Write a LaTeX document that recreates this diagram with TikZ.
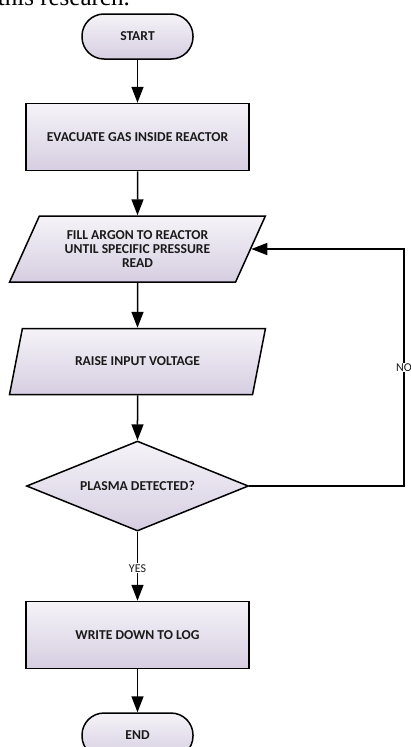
\documentclass[tikz,border=0pt]{standalone}
\usepackage{fontspec}
\setmainfont{Carlito}
\newfontfamily\bodyserif{Liberation Serif}
\usetikzlibrary{arrows.meta,positioning,shapes.geometric}
\definecolor{flowtop}{HTML}{F5F3F8}
\definecolor{flowbot}{HTML}{D6CEE1}
\definecolor{flowink}{HTML}{1A1A1A}

\begin{document}
\begin{tikzpicture}[x=1pt, y=-1pt, font=\fontsize{13.6}{14}\selectfont\bfseries,
    base/.style={draw=black, line width=1.5pt, top color=flowtop,
        bottom color=flowbot, text=flowink, align=center, inner sep=2pt},
    term/.style={base, rounded corners=22pt, minimum width=111pt, minimum height=45pt},
    proc/.style={base, minimum width=223pt, minimum height=67pt},
    io/.style={base, trapezium, trapezium left angle=61, trapezium right angle=119,
        trapezium stretches=true, minimum width=256pt, minimum height=66pt},
    decide/.style={base, diamond, aspect=2.47, minimum width=222pt, minimum height=90pt},
    arr/.style={line width=1.5pt, -{Triangle[length=16pt,width=12pt]}},
    lbl/.style={fill=white, inner sep=1pt, text=flowink,
        font=\mdseries\fontsize{12}{13}\selectfont}]
    \useasboundingbox (0,0) rectangle (410,747);
    \node[font=\bodyserif\mdseries\fontsize{25}{30}\selectfont, anchor=base east,
        inner sep=0pt] (intro) at (130,5) {this research.};
    \node[term] (start) at (137.5,36.5) {START};
    \node[proc, below=43pt of start] (evac) {EVACUATE GAS INSIDE REACTOR};
    \node[io, below=44pt of evac] (argon) {FILL ARGON TO REACTOR\\UNTIL SPECIFIC PRESSURE\\READ};
    \node[io, below=45pt of argon] (raise) {RAISE INPUT VOLTAGE};
    \node[decide, below=45pt of raise] (plasma) {PLASMA DETECTED?};
    \node[proc, below=69pt of plasma] (log) {WRITE DOWN TO LOG};
    \node[term, below=43pt of log] (stop) {END};
    \coordinate (loopx) at (404,0);
    \draw[arr] (start) -- (evac);
    \draw[arr] (evac) -- (argon);
    \draw[arr] (argon) -- (raise);
    \draw[arr] (raise) -- (plasma);
    \draw[arr] (plasma) -- node[lbl, pos=0.53] {YES} (log);
    \draw[arr] (log) -- (stop);
    \draw[arr] (plasma.east) -- (plasma.east -| loopx) |- node[lbl, pos=0.25] {NO} (argon.east);
  \end{tikzpicture}
\end{document}
